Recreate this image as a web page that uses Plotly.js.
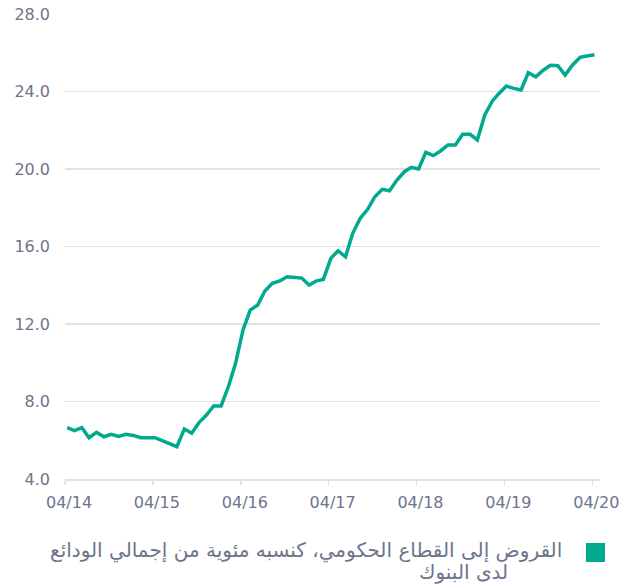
<!DOCTYPE html>
<html>
<head>
<meta charset="utf-8">
<script src="https://cdn.plot.ly/plotly-3.0.1.min.js"></script>
<style>
  html, body { margin: 0; padding: 0; background: #ffffff; }
  #chart { width: 624px; height: 584px; }
</style>
</head>
<body>
<div id="chart"></div>
<script>
// Monthly series: April 2014 .. April 2020
var startYear = 2014;
var startMonth = 4;
var loansPct = [
  6.65, 6.50, 6.65, 6.13, 6.41, 6.18, 6.31, 6.20, 6.31, 6.25, 6.13, 6.13,
  6.13, 5.98, 5.81, 5.67, 6.58, 6.36, 6.91, 7.30, 7.77, 7.77, 8.80, 9.97,
  11.69, 12.72, 12.98, 13.70, 14.10, 14.22, 14.44, 14.39, 14.37, 14.01, 14.23, 14.30,
  15.39, 15.78, 15.47, 16.68, 17.45, 17.92, 18.57, 18.95, 18.88, 19.43, 19.86, 20.09,
  20.00, 20.86, 20.69, 20.93, 21.24, 21.24, 21.79, 21.79, 21.50, 22.79, 23.50, 23.90,
  24.28, 24.16, 24.08, 24.97, 24.76, 25.10, 25.35, 25.33, 24.85, 25.37, 25.76, 25.83,
  25.90
];
var tickDates = ['2014-04-01', '2015-04-01', '2016-04-01', '2017-04-01', '2018-04-01', '2019-04-01', '2020-04-01'];
var tickLabels = ['04/14', '04/15', '04/16', '04/17', '04/18', '04/19', '04/20'];
var yTicks = [4, 8, 12, 16, 20, 24, 28];
var legendLine1 = 'القروض إلى القطاع الحكومي، كنسبه مئوية من إجمالي الودائع';
var legendLine2 = 'لدى البنوك';

function pad(n) { return (n < 10 ? '0' : '') + n; }
var dates = [];
for (var i = 0; i < loansPct.length; i++) {
  var m = startMonth - 1 + i;
  var y = startYear + Math.floor(m / 12);
  dates.push(y + '-' + pad((m % 12) + 1) + '-10');
}

var teal = '#00aa8e';
var textGray = '#6d758b';
var gridGray = '#e2e2e2';

var trace = {
  x: dates,
  y: loansPct,
  type: 'scatter',
  mode: 'lines',
  line: { color: teal, width: 3.5, shape: 'linear' },
  name: legendLine1 + ' ' + legendLine2,
  showlegend: false,
  hoverinfo: 'x+y'
};

var layout = {
  width: 624,
  height: 584,
  margin: { l: 65, r: 24, t: 14, b: 105 },
  paper_bgcolor: '#ffffff',
  plot_bgcolor: '#ffffff',
  font: { family: 'DejaVu Sans, sans-serif', color: textGray, size: 16 },
  showlegend: false,
  xaxis: {
    type: 'date',
    range: ['2014-04-01', '2020-05-03'],
    tickmode: 'array',
    tickvals: tickDates,
    ticktext: tickLabels,
    showgrid: false,
    zeroline: false,
    showline: true,
    linecolor: gridGray,
    linewidth: 1.5,
    ticks: 'outside',
    ticklen: 4,
    tickwidth: 1.5,
    tickcolor: gridGray,
    ticklabelshift: 4,
    ticklabelstandoff: 4,
    tickfont: { family: 'DejaVu Sans, sans-serif', size: 16, color: textGray },
    fixedrange: true
  },
  yaxis: {
    range: [4, 28],
    tickmode: 'array',
    tickvals: yTicks,
    tickformat: '.1f',
    showgrid: true,
    gridcolor: gridGray,
    gridwidth: 1.5,
    zeroline: false,
    showline: false,
    ticks: '',
    ticklabelstandoff: 14,
    tickfont: { family: 'DejaVu Sans, sans-serif', size: 16, color: textGray },
    fixedrange: true
  },
  shapes: [
    {
      type: 'rect', xref: 'paper', yref: 'paper',
      x0: (586 - 65) / 535, x1: (605 - 65) / 535,
      y0: (479 - 562) / 465, y1: (479 - 543) / 465,
      fillcolor: teal, line: { width: 0 }
    }
  ],
  annotations: [
    {
      text: legendLine1, xref: 'paper', yref: 'paper',
      x: (564 - 65) / 535, y: (479 - 550) / 465,
      xanchor: 'right', yanchor: 'middle', showarrow: false,
      font: { family: 'DejaVu Sans, sans-serif', size: 20, color: textGray }
    },
    {
      text: legendLine2, xref: 'paper', yref: 'paper',
      x: (510 - 65) / 535, y: (479 - 572) / 465,
      xanchor: 'right', yanchor: 'middle', showarrow: false,
      font: { family: 'DejaVu Sans, sans-serif', size: 20, color: textGray }
    }
  ]
};

Plotly.newPlot('chart', [trace], layout, { displayModeBar: false, staticPlot: true });
</script>
</body>
</html>
